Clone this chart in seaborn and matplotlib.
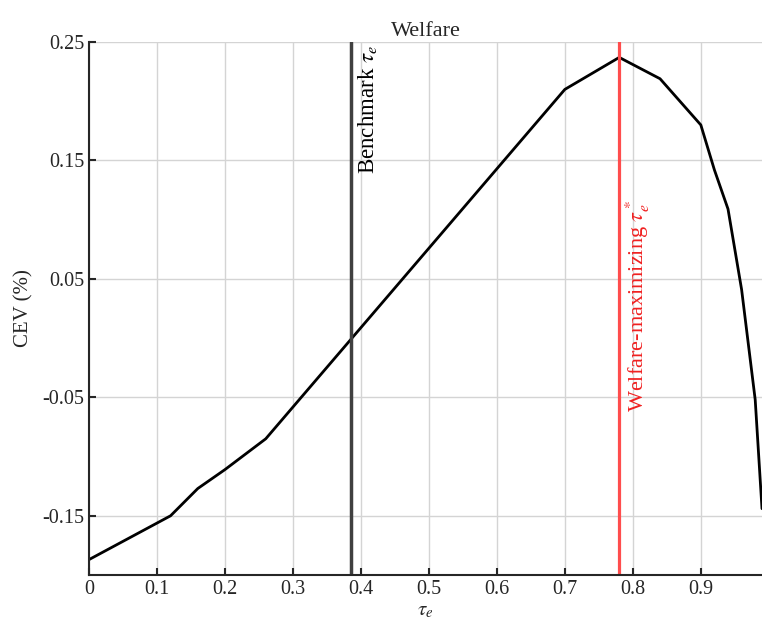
import matplotlib
matplotlib.use("Agg")
import matplotlib.pyplot as plt
import seaborn as sns
import pandas as pd

# welfare (CEV, %) by tau_e
tau_e = [0.0, 0.12, 0.16, 0.20, 0.26, 0.70, 0.78, 0.84, 0.90, 0.92, 0.94, 0.96, 0.98, 0.99]
cev = [-0.187, -0.150, -0.127, -0.111, -0.085, 0.210, 0.237, 0.219, 0.180, 0.142, 0.109, 0.041, -0.052, -0.144]

benchmark_tau = 0.386
optimal_tau = 0.78

xticks = [0, 0.1, 0.2, 0.3, 0.4, 0.5, 0.6, 0.7, 0.8, 0.9]
xticklabels = ["0", "0.1", "0.2", "0.3", "0.4", "0.5", "0.6", "0.7", "0.8", "0.9"]
yticks = [-0.15, -0.05, 0.05, 0.15, 0.25]
yticklabels = ["-0.15", "-0.05", "0.05", "0.15", "0.25"]

sns.set_theme(style="ticks")
plt.rcParams["font.family"] = ["Liberation Serif", "DejaVu Serif"]
plt.rcParams["mathtext.fontset"] = "stix"

df = pd.DataFrame({"tau": tau_e, "cev": cev})

fig = plt.figure(figsize=(7.62, 6.28), dpi=100)
ax = fig.add_axes([0.1168, 0.0844, 0.8832, 0.8487])

ax.grid(True, color="#d4d4d4", linewidth=1.0)
ax.set_axisbelow(True)

sns.lineplot(data=df, x="tau", y="cev", sort=False, color="black", linewidth=2.0, ax=ax)

ax.axvline(benchmark_tau, color="#404040", linewidth=2.5)
ax.axvline(optimal_tau, color="#ff4d4d", linewidth=2.3)

ax.text(benchmark_tau + 0.007, 0.248, r"Benchmark $\tau_e$", rotation=90,
        ha="left", va="top", fontsize=16.5, color="black")
ax.text(optimal_tau + 0.007, -0.062, r"Welfare-maximizing $\tau_e^*$", rotation=90,
        ha="left", va="bottom", fontsize=16, color="#f02020")

ax.set_xlim(0, 0.99)
ax.set_ylim(-0.2, 0.25)
ax.set_xticks(xticks)
ax.set_xticklabels(xticklabels)
ax.set_yticks(yticks)
ax.set_yticklabels(yticklabels)
ax.tick_params(direction="in", length=5, width=1.5, labelsize=14.5, colors="#262626")

for side in ["top", "right"]:
    ax.spines[side].set_visible(False)
for side in ["left", "bottom"]:
    ax.spines[side].set_linewidth(1.5)
    ax.spines[side].set_color("#262626")

ax.set_title("Welfare", fontsize=16, pad=4)
ax.set_xlabel(r"$\tau_e$", fontsize=15, labelpad=2)
ax.set_ylabel("CEV (%)", fontsize=15, labelpad=6)

fig.savefig("out.png", dpi=100)
